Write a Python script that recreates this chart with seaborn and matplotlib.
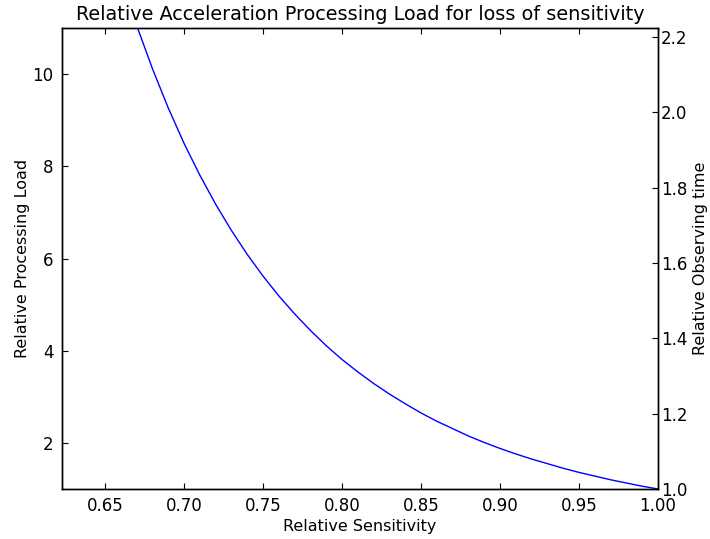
import matplotlib
matplotlib.use('Agg')
import matplotlib.pyplot as plt
import numpy as np
import pandas as pd
import seaborn as sns

# values
sensitivity = [0.67, 0.68, 0.69, 0.70, 0.71, 0.72, 0.73, 0.74, 0.75, 0.76, 0.77,
               0.78, 0.79, 0.80, 0.81, 0.82, 0.83, 0.84, 0.85, 0.86, 0.87, 0.88,
               0.89, 0.90, 0.91, 0.92, 0.93, 0.94, 0.95, 0.96, 0.97, 0.98, 0.99, 1.00]
load = [11.06, 10.12, 9.27, 8.50, 7.81, 7.18, 6.61, 6.09, 5.62, 5.19, 4.80,
        4.44, 4.11, 3.81, 3.54, 3.29, 3.06, 2.85, 2.65, 2.47, 2.31, 2.15,
        2.01, 1.88, 1.76, 1.65, 1.55, 1.45, 1.36, 1.28, 1.20, 1.13, 1.06, 1.00]
x_ticks = [0.65, 0.70, 0.75, 0.80, 0.85, 0.90, 0.95, 1.00]
left_ticks = [2, 4, 6, 8, 10]
right_ticks = [1.0, 1.2, 1.4, 1.6, 1.8, 2.0, 2.2]

df = pd.DataFrame({'sensitivity': sensitivity, 'load': load})

sns.set_style('ticks', {'xtick.direction': 'in', 'ytick.direction': 'in',
                        'text.color': 'black', 'axes.labelcolor': 'black',
                        'xtick.color': 'black', 'ytick.color': 'black'})
plt.rcParams['font.family'] = ['DejaVu Sans']
plt.rcParams['xtick.top'] = True

fig = plt.figure(figsize=(7.1, 5.39), dpi=100)
ax = fig.add_axes([62 / 710, 1 - 489 / 539, 596 / 710, 461 / 539])
sns.lineplot(data=df, x='sensitivity', y='load', ax=ax, color='blue', linewidth=1)
ax.set_xlim(0.6228, 1.0)
ax.set_ylim(1, 11)
ax.set_xticks(x_ticks)
ax.set_xticklabels(['%.2f' % t for t in x_ticks])
ax.set_yticks(left_ticks)
ax.tick_params(labelsize=12, length=4, width=0.8, pad=6)
ax.set_xlabel('Relative Sensitivity', fontsize=11.5, labelpad=3)
ax.set_ylabel('Relative Processing Load', fontsize=11.5, labelpad=2)
ax.set_title('Relative Acceleration Processing Load for loss of sensitivity', fontsize=13.9)

ax2 = ax.twinx()
ax2.set_ylim(1.0, 11 ** (1 / 3))
ax2.set_yticks(right_ticks)
ax2.set_yticklabels(['%.1f' % t for t in right_ticks])
ax2.tick_params(labelsize=12, length=4, width=0.8, direction='in', pad=2)
ax2.set_ylabel('Relative Observing time', fontsize=11.5, labelpad=4)

for a in (ax, ax2):
    for s in a.spines.values():
        s.set_visible(True)
        s.set_linewidth(1)
        s.set_color('black')

fig.savefig('out.png', dpi=100)
